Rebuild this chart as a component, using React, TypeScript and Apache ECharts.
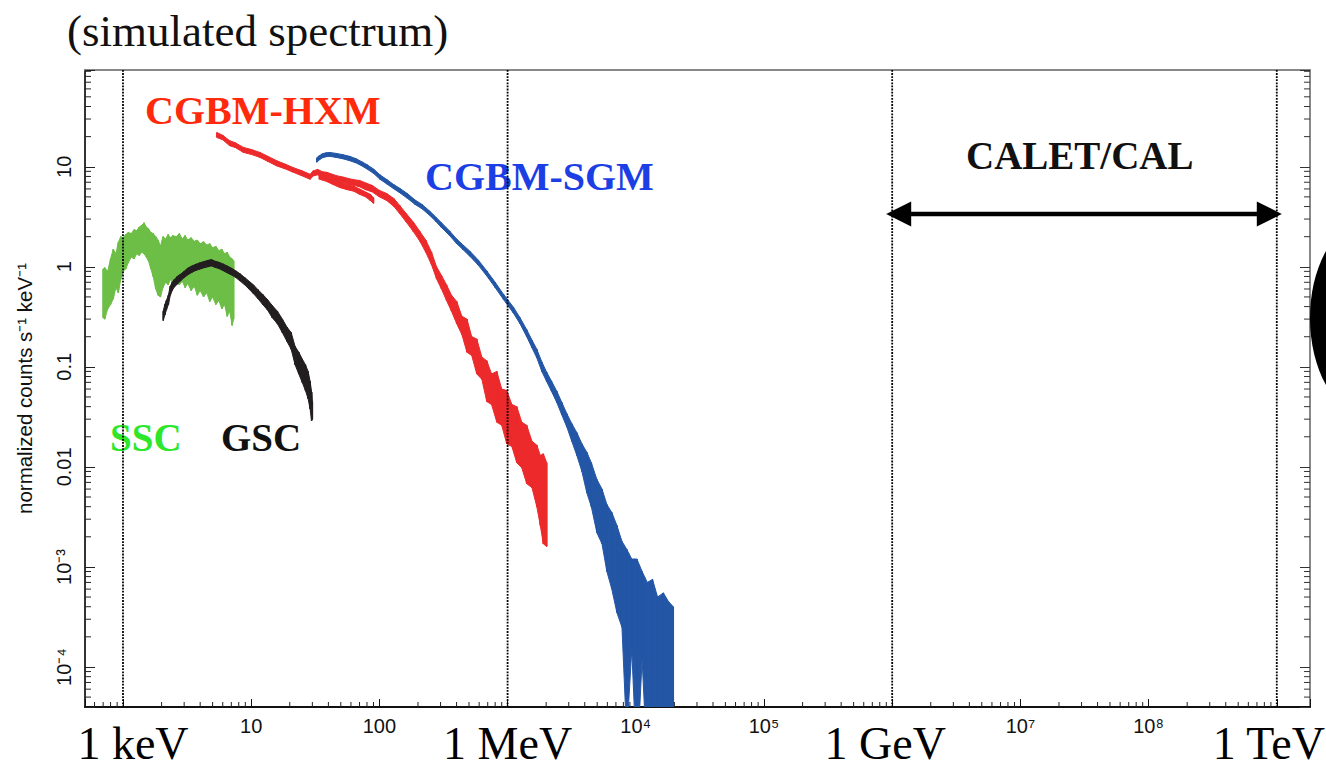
import React, { useEffect, useRef } from 'react';
import * as echarts from 'echarts';

// ---------- axes ----------
const X_MIN = 0.5054;
const X_MAX = 1.816e9;
const Y_MIN = 3.98e-5;
const Y_MAX = 92.7;

const X_TICK_LABELS: Record<string, string> = { '1': '10', '2': '100', '4': '10⁴', '5': '10⁵', '7': '10⁷', '8': '10⁸' };
const X_UNIT_LABELS: Record<string, string> = { '0': '1 keV', '3': '1 MeV', '6': '1 GeV', '9': '1 TeV' };
const Y_TICK_LABELS: Record<string, string> = { '1': '10', '0': '1', '-1': '0.1', '-2': '0.01', '-3': '10⁻³', '-4': '10⁻⁴' };
const Y_NAME = 'normalized counts s⁻¹ keV⁻¹';
const UNIT_LINES = [1, 1e3, 1e6, 1e9];
const CALET_RANGE = [1e6, 1e9];
const CALET_ARROW_Y = 3.37;
const MINOR_MULTS = [2, 3, 4, 5, 6, 7, 8, 9];
const X_DECADES = [-1, 0, 1, 2, 3, 4, 5, 6, 7, 8];
const Y_DECADES = [-5, -4, -3, -2, -1, 0, 1];

// ---------- SSC (green) ----------
const sscE = [0.70, 0.72, 0.76, 0.80, 0.84, 0.88, 0.92, 0.96, 1.00, 1.05, 1.10, 1.16, 1.22, 1.28, 1.34, 1.40, 1.46, 1.52, 1.58, 1.65, 1.72, 1.80, 1.88, 1.96, 2.05, 2.15, 2.25, 2.35, 2.45, 2.60, 2.75, 2.90, 3.05, 3.20, 3.40, 3.60, 3.80, 4.00, 4.25, 4.50, 4.75, 5.00, 5.30, 5.60, 5.90, 6.20, 6.50, 6.80, 7.10, 7.30];
const sscHi = [0.95, 0.98, 0.90, 1.20, 1.50, 1.35, 1.75, 2.00, 1.95, 2.10, 2.20, 2.15, 2.35, 2.30, 2.50, 2.60, 2.75, 2.50, 2.40, 2.20, 2.15, 2.00, 1.85, 1.60, 2.00, 1.90, 2.10, 1.95, 2.05, 2.00, 2.15, 1.90, 2.05, 1.85, 1.95, 1.80, 1.85, 1.70, 1.78, 1.65, 1.70, 1.55, 1.60, 1.45, 1.50, 1.35, 1.40, 1.25, 1.20, 1.15];
const sscLo = [0.31, 0.30, 0.38, 0.42, 0.48, 0.62, 0.55, 0.75, 0.90, 0.95, 1.10, 1.25, 1.20, 1.35, 1.30, 1.40, 1.35, 1.25, 1.15, 0.95, 0.80, 0.60, 0.52, 0.50, 0.62, 0.70, 0.66, 0.75, 0.68, 0.74, 0.66, 0.72, 0.62, 0.68, 0.58, 0.64, 0.52, 0.58, 0.50, 0.55, 0.45, 0.50, 0.42, 0.46, 0.38, 0.42, 0.32, 0.36, 0.26, 0.30];

// ---------- GSC (black) ----------
const gscE = [2.06, 2.12, 2.18, 2.26, 2.34, 2.42, 2.52, 2.65, 2.80, 3.00, 3.20, 3.45, 3.70, 4.00, 4.30, 4.60, 4.90, 5.20, 5.60, 6.00, 6.50, 7.00, 7.60, 8.20, 8.90, 9.60, 10.4, 11.3, 12.3, 13.4, 14.6, 16.0, 17.5, 19.0, 20.5, 22.0, 23.5, 25.0, 26.5, 27.8, 28.8, 29.6, 30.0];
const gscLo = [0.29, 0.33, 0.37, 0.42, 0.52, 0.58, 0.63, 0.67, 0.72, 0.78, 0.83, 0.88, 0.92, 0.95, 0.98, 1.00, 1.02, 0.99, 0.96, 0.92, 0.87, 0.83, 0.78, 0.72, 0.66, 0.60, 0.54, 0.48, 0.42, 0.37, 0.31, 0.27, 0.22, 0.18, 0.15, 0.105, 0.085, 0.070, 0.058, 0.048, 0.038, 0.029, 0.030];
const gscHi = [0.36, 0.42, 0.46, 0.52, 0.64, 0.70, 0.75, 0.80, 0.84, 0.90, 0.97, 1.02, 1.06, 1.10, 1.13, 1.16, 1.18, 1.14, 1.11, 1.07, 1.02, 0.97, 0.91, 0.85, 0.78, 0.72, 0.66, 0.59, 0.53, 0.47, 0.41, 0.36, 0.30, 0.25, 0.22, 0.16, 0.14, 0.12, 0.105, 0.09, 0.072, 0.056, 0.045];

// ---------- CGBM-HXM (red) ----------
const hxmE = [5.4, 6.0, 6.8, 7.5, 8.7, 10, 11.7, 13.5, 15.8, 18.5, 21.3, 25, 28.8, 30.5, 33, 36, 39, 43, 47, 52, 58, 64, 70, 78, 88, 100, 114, 130, 144, 162, 184, 207, 230, 255, 279, 305, 334, 365, 401, 440, 482, 525, 575, 630, 688, 750, 824, 900, 985, 1080, 1180, 1290, 1410, 1550, 1690, 1800, 1900, 2020];
const hxmLo = [19.6, 18.6, 16.2, 15.6, 13.9, 13.3, 12.4, 11.3, 10.2, 9.5, 8.8, 8.1, 7.5, 8.1, 8.3, 7.9, 7.8, 7.4, 7.1, 6.9, 6.6, 6.5, 6.3, 5.9, 5.6, 5.0, 4.6, 4.0, 3.4, 2.8, 2.25, 1.8, 1.4, 1.05, 0.76, 0.60, 0.46, 0.36, 0.27, 0.21, 0.14, 0.13, 0.085, 0.075, 0.045, 0.042, 0.028, 0.026, 0.017, 0.016, 0.011, 0.0098, 0.0068, 0.0062, 0.0040, 0.0026, 0.0017, 0.0016];
const hxmHi = [22.0, 20.6, 18.2, 17.4, 15.6, 14.9, 13.9, 12.7, 11.5, 10.6, 9.8, 9.1, 8.4, 9.1, 9.4, 8.9, 8.8, 8.4, 8.1, 7.9, 7.6, 7.4, 7.3, 6.9, 6.5, 5.8, 5.4, 4.8, 4.1, 3.4, 2.8, 2.25, 1.85, 1.4, 1.0, 0.82, 0.66, 0.52, 0.45, 0.32, 0.30, 0.20, 0.19, 0.125, 0.115, 0.085, 0.09, 0.06, 0.058, 0.042, 0.04, 0.028, 0.026, 0.018, 0.0165, 0.013, 0.0135, 0.011];
// second HXM track (ends near 100 keV)
const hxm2E = [34, 38, 43, 49, 56, 63, 70, 78, 85, 90];
const hxm2Lo = [7.5, 7.2, 6.7, 6.2, 5.9, 5.7, 5.3, 5.0, 4.6, 4.3];
const hxm2Hi = [8.4, 8.1, 7.5, 7.0, 6.6, 6.4, 6.0, 5.6, 5.3, 4.9];

// ---------- CGBM-SGM (blue) ----------
const sgmE = [32.5, 34, 36, 38.5, 41, 46, 52, 58.7, 66, 73, 80, 90, 101, 115, 130, 144, 165, 190, 215, 246, 275, 305, 353, 400, 450, 506, 590, 688, 800, 930, 1110, 1250, 1410, 1550, 1690, 1850, 2020, 2200, 2420, 2650, 2900, 3170, 3470, 3800, 4150, 4500, 4970, 5450, 5950, 6500, 7120, 7800, 8500, 9300, 10200, 11200, 12300, 13500, 14800, 16400, 18000, 19600];
const sgmLo = [11.1, 11.7, 12.3, 12.6, 12.7, 12.4, 12.0, 11.5, 10.9, 10.2, 9.5, 8.6, 7.5, 6.7, 6.0, 5.5, 4.85, 4.2, 3.8, 3.28, 2.85, 2.47, 2.05, 1.71, 1.48, 1.28, 1.04, 0.81, 0.62, 0.47, 0.345, 0.27, 0.20, 0.155, 0.123, 0.09, 0.071, 0.057, 0.044, 0.033, 0.025, 0.018, 0.013, 0.009, 0.0055, 0.004, 0.0022, 0.0017, 0.0009, 0.0006, 0.00035, 0.00025, 0.00002, 0.00015, 0.00001, 0.00012, 0.00001, 0.00001, 0.00001, 0.00001, 0.00001, 0.00001];
const sgmHi = [12.3, 12.9, 13.5, 13.8, 13.9, 13.6, 13.2, 12.7, 12.0, 11.2, 10.5, 9.5, 8.3, 7.4, 6.6, 6.1, 5.4, 4.65, 4.2, 3.62, 3.15, 2.75, 2.28, 1.9, 1.65, 1.44, 1.17, 0.91, 0.70, 0.53, 0.395, 0.31, 0.235, 0.185, 0.15, 0.112, 0.088, 0.072, 0.057, 0.044, 0.034, 0.027, 0.022, 0.017, 0.014, 0.011, 0.0075, 0.006, 0.0042, 0.0035, 0.0026, 0.0018, 0.0015, 0.0012, 0.0012, 0.0009, 0.0007, 0.00075, 0.0005, 0.00055, 0.00045, 0.0004];

const makeDecades = (decades: number[], lo: number, hi: number) =>
  decades.flatMap((d) => MINOR_MULTS.map((m) => m * Math.pow(10, d))).filter((v) => v > lo * 1.01 && v < hi * 0.99);
const xMinor = makeDecades(X_DECADES, X_MIN, X_MAX);
const yMinor = makeDecades(Y_DECADES, Y_MIN, Y_MAX);

function bandSeries(name: string, E: number[], lo: number[], hi: number[], color: string, z: number) {
  return {
    name,
    type: 'custom',
    clip: true,
    silent: true,
    z,
    data: E.map((e, i) => [e, lo[i], hi[i]]),
    encode: { x: 0, y: [1, 2] },
    renderItem: (params: any, api: any) => {
      const i = params.dataIndex;
      const a1 = api.coord([E[i], hi[i]]);
      const a0 = api.coord([E[i], lo[i]]);
      const children: any[] = [
        { type: 'line', shape: { x1: a1[0], y1: a1[1], x2: a0[0], y2: a0[1] }, style: { stroke: color, lineWidth: 1.6 } },
      ];
      if (i < E.length - 1) {
        const b1 = api.coord([E[i + 1], hi[i + 1]]);
        const b0 = api.coord([E[i + 1], lo[i + 1]]);
        children.push({
          type: 'polygon',
          shape: { points: [a1, b1, b0, a0] },
          style: { fill: color, stroke: color, lineWidth: 1 },
        });
      }
      return { type: 'group', children };
    },
  };
}

function decadeIndex(v: any): string | null {
  const l = Math.log10(Number(v));
  const k = Math.round(l);
  if (Math.abs(l - k) > 1e-6) return null;
  return String(k);
}

const SERIF = '"Liberation Serif", "Times New Roman", serif';
const SANS = '"Liberation Sans", Arial, Helvetica, sans-serif';

export default function App() {
  const ref = useRef<HTMLDivElement>(null);
  useEffect(() => {
    const chart = echarts.init(ref.current!, null, { renderer: 'svg' });
    const option: any = {
      animation: false,
      backgroundColor: '#fff',
      grid: { left: 85, right: 16, top: 70, bottom: 63, containLabel: false, outerBoundsMode: 'none' },
      xAxis: [
        {
          type: 'log',
          logBase: 10,
          min: X_MIN,
          max: X_MAX,
          splitNumber: 10,
          position: 'bottom',
          axisLine: { show: true, lineStyle: { color: '#111', width: 2 } },
          axisTick: { show: true, inside: true, length: 8, lineStyle: { color: '#111', width: 1 } },
          minorTick: { show: false },
          splitLine: { show: false },
          axisLabel: {
            margin: 9,
            color: '#111',
            hideOverlap: false,
            formatter: (v: any) => {
              const k = decadeIndex(v);
              if (k === null) return '';
              if (X_UNIT_LABELS[k]) return `{u${k}|${X_UNIT_LABELS[k]}}`;
              if (X_TICK_LABELS[k]) return `{n|${X_TICK_LABELS[k]}}`;
              return '';
            },
            rich: {
              n: { fontSize: 20, fontFamily: SANS, color: '#111', lineHeight: 20 },
              u0: { fontSize: 46, fontFamily: SERIF, color: '#000', lineHeight: 46, padding: [9, 0, 0, 20] },
              u3: { fontSize: 46, fontFamily: SERIF, color: '#000', lineHeight: 46, padding: [9, 0, 0, 0] },
              u6: { fontSize: 46, fontFamily: SERIF, color: '#000', lineHeight: 46, padding: [9, 14, 0, 0] },
              u9: { fontSize: 46, fontFamily: SERIF, color: '#000', lineHeight: 46, padding: [9, 16, 0, 0] },
            },
          },
        },
        {
          type: 'log',
          logBase: 10,
          min: X_MIN,
          max: X_MAX,
          splitNumber: 10,
          position: 'top',
          axisLine: { show: true, lineStyle: { color: '#888', width: 2 } },
          axisTick: { show: false },
          axisLabel: { show: false },
          splitLine: { show: false },
        },
      ],
      yAxis: [
        {
          type: 'log',
          logBase: 10,
          min: Y_MIN,
          max: Y_MAX,
          splitNumber: 10,
          position: 'left',
          name: Y_NAME,
          nameLocation: 'middle',
          nameGap: 50,
          nameTextStyle: { fontSize: 20.5, fontFamily: SANS, color: '#111' },
          axisLine: { show: true, lineStyle: { color: '#333', width: 2 } },
          axisTick: { show: true, inside: true, length: 10, lineStyle: { color: '#222', width: 1 } },
          splitLine: { show: false },
          axisLabel: {
            rotate: 90,
            margin: 11,
            fontSize: 20,
            fontFamily: SANS,
            color: '#111',
            formatter: (v: any) => {
              const k = decadeIndex(v);
              if (k === null) return '';
              return Y_TICK_LABELS[k] || '';
            },
          },
        },
        {
          type: 'log',
          logBase: 10,
          min: Y_MIN,
          max: Y_MAX,
          splitNumber: 10,
          position: 'right',
          axisLine: { show: true, lineStyle: { color: '#888', width: 2 } },
          axisTick: { show: true, inside: true, length: 10, lineStyle: { color: '#333', width: 1 } },
          axisLabel: { show: false },
          splitLine: { show: false },
        },
      ],
      series: [
        bandSeries('SGM', sgmE, sgmLo, sgmHi, '#2456a6', 2),
        bandSeries('HXM', hxmE, hxmLo, hxmHi, '#ec2a2c', 3),
        bandSeries('HXM2', hxm2E, hxm2Lo, hxm2Hi, '#ec2a2c', 3),
        bandSeries('SSC', sscE, sscLo, sscHi, '#6dbe47', 2),
        bandSeries('GSC', gscE, gscLo, gscHi, '#231f20', 3),
        {
          type: 'custom',
          silent: true,
          clip: false,
          z: 6,
          data: UNIT_LINES.map((v) => [v, 1]),
          renderItem: (params: any, api: any) => {
            const cs = params.coordSys;
            const x = api.coord([api.value(0), 1])[0];
            return {
              type: 'line',
              shape: { x1: x, y1: cs.y, x2: x, y2: cs.y + cs.height },
              style: { stroke: '#000', lineWidth: 1.8, lineDash: [1.8, 1.3] },
            };
          },
        },
        {
          type: 'custom',
          silent: true,
          clip: false,
          z: 6,
          data: [[CALET_RANGE[0], CALET_RANGE[1], CALET_ARROW_Y]],
          renderItem: (params: any, api: any) => {
            const p0 = api.coord([api.value(0), api.value(2)]);
            const p1 = api.coord([api.value(1), api.value(2)]);
            const y = p0[1];
            const tipL = p0[0] - 6;
            const tipR = p1[0] + 5;
            const L = 25;
            const H = 12.5;
            return {
              type: 'group',
              children: [
                { type: 'line', shape: { x1: tipL + L - 2, y1: y, x2: tipR - L + 2, y2: y }, style: { stroke: '#000', lineWidth: 4.5 } },
                { type: 'polygon', shape: { points: [[tipL, y], [tipL + L, y - H], [tipL + L, y + H]] }, style: { fill: '#000' } },
                { type: 'polygon', shape: { points: [[tipR, y], [tipR - L, y - H], [tipR - L, y + H]] }, style: { fill: '#000' } },
              ],
            };
          },
        },
        {
          type: 'custom',
          silent: true,
          clip: false,
          z: 5,
          data: xMinor.map((v) => [v, 1]),
          renderItem: (params: any, api: any) => {
            const cs = params.coordSys;
            const x = api.coord([api.value(0), 1])[0];
            const yb = cs.y + cs.height;
            return { type: 'line', shape: { x1: x, y1: yb, x2: x, y2: yb - 5 }, style: { stroke: '#222', lineWidth: 1 } };
          },
        },
        {
          type: 'custom',
          silent: true,
          clip: false,
          z: 5,
          data: yMinor.map((v) => [1, v]),
          renderItem: (params: any, api: any) => {
            const cs = params.coordSys;
            const y = api.coord([1, api.value(1)])[1];
            return {
              type: 'group',
              children: [
                { type: 'line', shape: { x1: cs.x, y1: y, x2: cs.x + 6, y2: y }, style: { stroke: '#222', lineWidth: 1 } },
                { type: 'line', shape: { x1: cs.x + cs.width, y1: y, x2: cs.x + cs.width - 6, y2: y }, style: { stroke: '#333', lineWidth: 1 } },
              ],
            };
          },
        },
      ],
      graphic: [
        { type: 'ellipse', shape: { cx: 1372, cy: 318, rx: 62, ry: 100 }, style: { fill: '#000' }, z: 1 },
        { type: 'text', x: 67, y: 31, style: { text: '(simulated spectrum)', font: `45px ${SERIF}`, fill: '#111', align: 'left', verticalAlign: 'middle' } },
        { type: 'text', x: 145, y: 110, style: { text: 'CGBM-HXM', font: `bold 40px ${SERIF}`, fill: '#ff2a0c', align: 'left', verticalAlign: 'middle' } },
        { type: 'text', x: 425, y: 176, style: { text: 'CGBM-SGM', font: `bold 40px ${SERIF}`, fill: '#1b3fe4', align: 'left', verticalAlign: 'middle' } },
        { type: 'text', x: 966, y: 155, style: { text: 'CALET/CAL', font: `bold 39px ${SERIF}`, fill: '#111', align: 'left', verticalAlign: 'middle' } },
        { type: 'text', x: 110, y: 437, style: { text: 'SSC', font: `bold 39px ${SERIF}`, fill: '#2ee62a', align: 'left', verticalAlign: 'middle' } },
        { type: 'text', x: 221, y: 437, style: { text: 'GSC', font: `bold 39px ${SERIF}`, fill: '#111', align: 'left', verticalAlign: 'middle' } },
      ],
    };
    chart.setOption(option);
    return () => chart.dispose();
  }, []);
  return <div ref={ref} style={{ position: 'absolute', left: 0, top: 0, width: 1326, height: 770, background: '#fff' }} />;
}
